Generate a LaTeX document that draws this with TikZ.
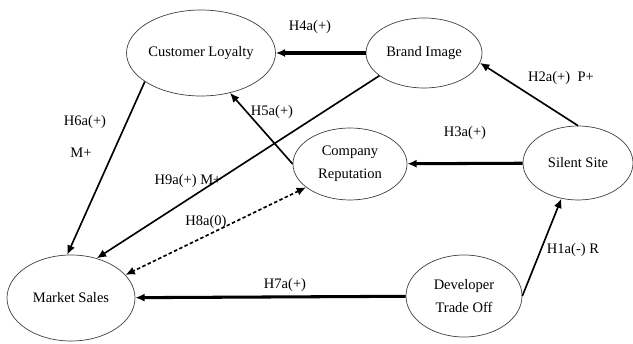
\documentclass[tikz,border=0pt]{standalone}
\usepackage{fontspec}
\setmainfont{Liberation Serif}
\usetikzlibrary{shapes.geometric,arrows.meta}

\begin{document}
\begin{tikzpicture}[x=0.03cm,y=0.03cm,
  latent/.style={draw=black!75, line width=0.6pt, ellipse, inner sep=0pt, align=center, font=\fontsize{12.4}{20}\selectfont},
  strong/.style={line width=2.6pt, -{Latex[length=8pt,width=7pt]}},
  weak/.style={line width=1.4pt, -{Latex[length=8pt,width=7pt]}},
  hyp/.style={font=\fontsize{12.4}{14}\selectfont, inner sep=1pt}]
\useasboundingbox (0,0) rectangle (633,344);

\node[latent, minimum width=3.78cm, minimum height=2.58cm] (loyal) at (201,291) {Customer Loyalty};
\node[latent, minimum width=3.48cm, minimum height=2.1cm] (brand) at (424,291) {Brand Image};
\node[latent, minimum width=3.42cm, minimum height=2.16cm] (repute) at (350,180) {Company\\Reputation};
\node[latent, minimum width=3.3cm, minimum height=2.22cm] (silent) at (578,181) {Silent Site};
\node[latent, minimum width=3.48cm, minimum height=2.46cm] (trade) at (464,48) {Developer\\Trade Off};
\node[latent, minimum width=3.84cm, minimum height=2.58cm] (sales) at (71,46) {Market Sales};

\draw[strong] (brand) -- (loyal);
\draw[strong] (silent) -- (repute);
\draw[strong] (trade) -- (sales);
\draw[weak] (silent.north) -- (brand.-10);
\draw[weak] (trade.east) -- (silent.-115);
\draw[weak] (loyal.-153) -- (sales.95);
\draw[weak] (repute.west) -- (loyal.-54);
\draw[weak] (brand.-153) -- (sales.57);
\draw[line width=1.4pt, dash pattern=on 3pt off 2pt, {Latex[length=8pt,width=7pt]}-{Latex[length=8pt,width=7pt]}] (repute.-152) -- (sales.23);

\node[hyp] (h4) at (310,317) {H4a(+)};
\node[hyp] (h2) at (561,266) {H2a(+)\ \ P+};
\node[hyp] (h3) at (465,211) {H3a(+)};
\node[hyp] (h1) at (573,94) {H1a(-) R};
\node[hyp] (h7) at (285,59) {H7a(+)};
\node[hyp] (h6) at (85,222) {H6a(+)};
\node[hyp] (m6) at (81,191) {M+};
\node[hyp] (h5) at (272,232) {H5a(+)};
\node[hyp] (h9) at (188,163) {H9a(+) M+};
\node[hyp] (h8) at (206,122) {H8a(0)};
\end{tikzpicture}
\end{document}
